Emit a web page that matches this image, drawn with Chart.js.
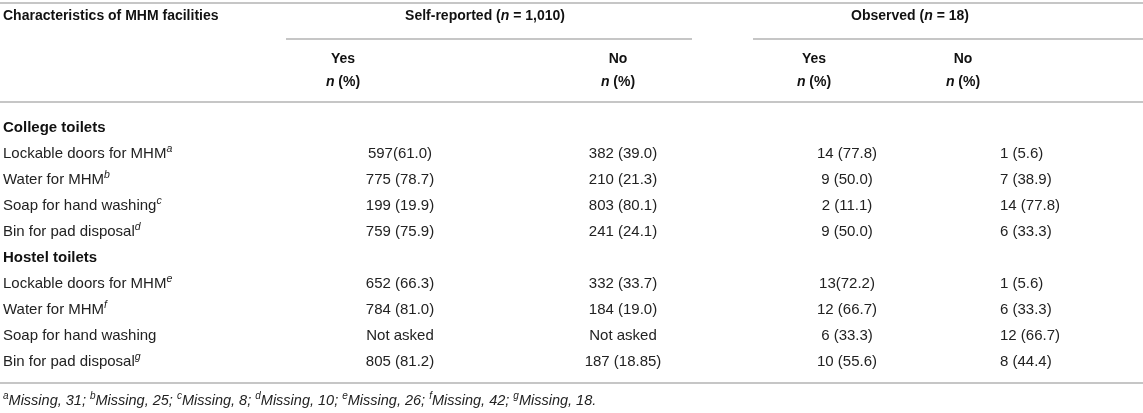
<!DOCTYPE html>
<html>
<head>
<meta charset="utf-8">
<script src="https://cdn.jsdelivr.net/npm/chart.js@4.4.1/dist/chart.umd.min.js"></script>
<style>
  html, body { margin: 0; padding: 0; background: #ffffff; }
  #wrap { width: 1143px; height: 413px; position: relative; }
</style>
</head>
<body>
<div id="wrap"><canvas id="c"></canvas></div>
<script>
// ---------------- DATA ----------------
const groups = ['College toilets', 'Hostel toilets'];
const characteristics = ['Lockable doors for MHM', 'Water for MHM', 'Soap for hand washing', 'Bin for pad disposal'];
const collegeNotes = ['a', 'b', 'c', 'd'];
const hostelNotes = ['e', 'f', '', 'g'];
const selfYes = ['597(61.0)', '775 (78.7)', '199 (19.9)', '759 (75.9)', '652 (66.3)', '784 (81.0)', 'Not asked', '805 (81.2)'];
const selfNo = ['382 (39.0)', '210 (21.3)', '803 (80.1)', '241 (24.1)', '332 (33.7)', '184 (19.0)', 'Not asked', '187 (18.85)'];
const obsYes = ['14 (77.8)', '9 (50.0)', '2 (11.1)', '9 (50.0)', '13(72.2)', '12 (66.7)', '6 (33.3)', '10 (55.6)'];
const obsNo = ['1 (5.6)', '7 (38.9)', '14 (77.8)', '6 (33.3)', '1 (5.6)', '6 (33.3)', '12 (66.7)', '8 (44.4)'];
const selfN = '1,010';
const obsN = '18';
const footLetters = ['a', 'b', 'c', 'd', 'e', 'f', 'g'];
const footMissing = [31, 25, 8, 10, 26, 42, 18];

// ---------------- BUILD ROWS ----------------
const rowKeys = [];        // unique y categories
const rowTexts = [];
const rowBold = [];
const rowNotes = [];
const valueRowKey = [];    // row key for each value entry
[collegeNotes, hostelNotes].forEach((notes, g) => {
  rowKeys.push(groups[g]); rowTexts.push(groups[g]); rowBold.push(true); rowNotes.push('');
  characteristics.forEach((c, i) => {
    const key = groups[g] + ' – ' + c;
    valueRowKey.push(key);
    rowKeys.push(key); rowTexts.push(c); rowBold.push(false); rowNotes.push(notes[i]);
  });
});

// layout (positions in x-scale units = px of a 1143 wide table)
const layout = {
  labelX: 3,
  cols: [
    { key: 'selfYes', x: 400, align: 'center', values: selfYes },
    { key: 'selfNo', x: 623, align: 'center', values: selfNo },
    { key: 'obsYes', x: 847, align: 'center', values: obsYes },
    { key: 'obsNo', x: 1000, align: 'left', values: obsNo }
  ],
  subHeads: [ { text: 'Yes', x: 343 }, { text: 'No', x: 618 }, { text: 'Yes', x: 814 }, { text: 'No', x: 963 } ],
  groupHeads: [ { x: 485, n: selfN, text: 'Self-reported' , x1: 286, x2: 692 },
                { x: 910, n: obsN, text: 'Observed', x1: 753, x2: 1143 } ],
  tableRight: 1143
};

const FONT = '"Liberation Sans", Arial, Helvetica, sans-serif';
const TXT = '#222222';
const RULE = '#c6c6c6';

const datasets = [];
datasets.push({
  label: 'labels',
  data: rowKeys.map(k => ({ x: layout.labelX, y: k })),
  texts: rowTexts, align: 'left', pointRadius: 0
});
layout.cols.forEach(col => {
  datasets.push({
    label: col.key,
    data: col.values.map((v, i) => ({ x: col.x, y: valueRowKey[i] })),
    texts: col.values, align: col.align, pointRadius: 0
  });
});

function drawRuns(ctx, runs, x, y, align) {
  let total = 0;
  runs.forEach(r => { ctx.font = r.font; r.w = ctx.measureText(r.t).width; total += r.w; });
  let cx = align === 'center' ? x - total / 2 : (align === 'right' ? x - total : x);
  runs.forEach(r => {
    ctx.font = r.font;
    ctx.textAlign = 'left';
    ctx.fillText(r.t, cx, y + (r.sup ? -5 : 0));
    cx += r.w;
  });
}

const tablePlugin = {
  id: 'tablePlugin',
  afterDatasetsDraw(chart) {
    const ctx = chart.ctx;
    const xs = chart.scales.x, ys = chart.scales.y;
    const px = v => xs.getPixelForValue(v);
    ctx.save();
    ctx.textBaseline = 'middle';

    const firstRow = ys.getPixelForValue(0);
    const lastRow = ys.getPixelForValue(rowKeys.length - 1);
    const rule = (x1, x2, y) => {
      ctx.strokeStyle = RULE; ctx.lineWidth = 2;
      ctx.beginPath(); ctx.moveTo(px(x1), y); ctx.lineTo(px(x2), y); ctx.stroke();
    };
    const topY = firstRow - 125;
    const headY = firstRow - 112;
    const subRuleY = firstRow - 89;
    const yesY = firstRow - 69;
    const npY = firstRow - 46;
    const headRuleY = firstRow - 26;
    const botRuleY = lastRow + 21;
    const footY = lastRow + 39;
    rule(0, layout.tableRight, topY);
    layout.groupHeads.forEach(g => rule(g.x1, g.x2, subRuleY));
    rule(0, layout.tableRight, headRuleY);
    rule(0, layout.tableRight, botRuleY);

    // header
    const B = '700 14px ' + FONT, BI = 'italic 700 14px ' + FONT;
    ctx.fillStyle = '#111';
    drawRuns(ctx, [{ t: 'Characteristics of MHM facilities', font: B }], px(layout.labelX), headY, 'left');
    layout.groupHeads.forEach(g => {
      drawRuns(ctx, [{ t: g.text + ' (', font: B }, { t: 'n', font: BI }, { t: ' = ' + g.n + ')', font: B }], px(g.x), headY, 'center');
    });
    layout.subHeads.forEach(s => {
      drawRuns(ctx, [{ t: s.text, font: B }], px(s.x), yesY, 'center');
      drawRuns(ctx, [{ t: 'n', font: BI }, { t: ' (%)', font: B }], px(s.x), npY, 'center');
    });

    // body cells via dataset elements
    chart.data.datasets.forEach((ds, di) => {
      const meta = chart.getDatasetMeta(di);
      meta.data.forEach((el, i) => {
        const t = ds.texts[i];
        if (di === 0) {
          const bold = rowBold[i];
          ctx.fillStyle = bold ? '#111' : TXT;
          const runs = [{ t: t, font: (bold ? '700 ' : '400 ') + '15px ' + FONT }];
          if (rowNotes[i]) runs.push({ t: rowNotes[i], font: 'italic 400 10.5px ' + FONT, sup: true });
          drawRuns(ctx, runs, el.x, el.y, 'left');
        } else {
          ctx.fillStyle = TXT;
          drawRuns(ctx, [{ t: t, font: '400 15px ' + FONT }], el.x, el.y, ds.align);
        }
      });
    });

    // footnote
    ctx.fillStyle = TXT;
    const runs = [];
    footLetters.forEach((l, i) => {
      runs.push({ t: l, font: 'italic 400 10px ' + FONT, sup: true });
      runs.push({ t: 'Missing, ' + footMissing[i] + (i < footLetters.length - 1 ? '; ' : '.'), font: 'italic 400 14.5px ' + FONT });
    });
    drawRuns(ctx, runs, px(layout.labelX), footY, 'left');
    ctx.restore();
  }
};

new Chart(document.getElementById('c'), {
  type: 'scatter',
  data: { datasets },
  options: {
    responsive: true,
    maintainAspectRatio: false,
    animation: false,
    events: [],
    layout: { padding: { top: 115, bottom: 38, left: 0, right: 0 } },
    plugins: { legend: { display: false }, tooltip: { enabled: false }, title: { display: false } },
    scales: {
      x: { type: 'linear', min: 0, max: 1143, display: false },
      y: { type: 'category', labels: rowKeys, offset: true, display: false }
    }
  },
  plugins: [tablePlugin]
});
</script>
</body>
</html>
